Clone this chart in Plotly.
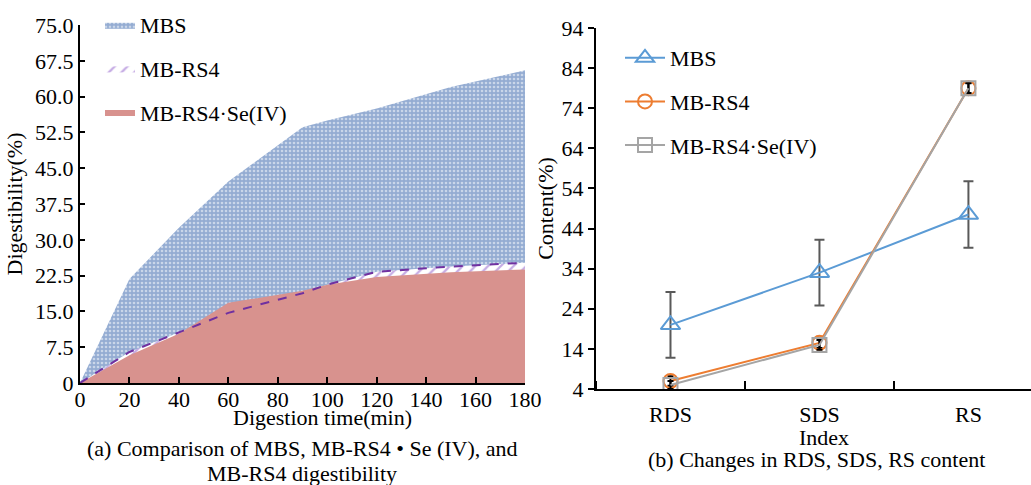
import plotly.graph_objects as go

# ---------- data: left chart (digestibility vs time) ----------
time_min = [0, 20, 40, 60, 90, 100, 120, 150, 180]
mbs_dig = [0, 21.8, 32.5, 42.2, 53.6, 55.0, 57.5, 62.0, 65.5]
mbrs4_dig = [0, 6.5, 10.6, 14.7, 18.8, 20.6, 23.3, 24.4, 25.2]
mbrs4se_dig = [0, 5.8, 10.3, 16.8, 19.3, 20.6, 22.2, 23.2, 23.8]

# ---------- data: right chart (content by index) ----------
index_cats = ["RDS", "SDS", "RS"]
mbs_content = [20.0, 33.0, 47.5]
mbs_err = [8.2, 8.2, 8.3]
mbrs4_content = [6.0, 15.5, 79.0]
mbrs4_err = [1.2, 1.3, 1.3]
mbrs4se_content = [5.0, 15.0, 79.0]
mbrs4se_err = [1.0, 1.2, 1.2]

left_xticks = list(range(0, 181, 20))
left_yticks = [0, 7.5, 15, 22.5, 30, 37.5, 45, 52.5, 60, 67.5, 75]
left_yticklabels = ["0", "7.5", "15.0", "22.5", "30.0", "37.5", "45.0", "52.5", "60.0", "67.5", "75.0"]
right_yticks = [4, 14, 24, 34, 44, 54, 64, 74, 84, 94]
idx_pos = list(range(len(index_cats)))

FONT = "Liberation Serif"
FS = 22
W, H = 1031, 485

fig = go.Figure()

# left areas
fig.add_trace(go.Scatter(
    x=time_min, y=mbs_dig, name="MBS", mode="lines", fill="tozeroy",
    line=dict(width=0, color="#94acd2"),
    fillcolor="#94acd2",
    fillpattern=dict(shape=".", bgcolor="#94acd2", fgcolor="white", size=4, solidity=0.35),
    legend="legend", legendgroup="a1", xaxis="x", yaxis="y"))
fig.add_trace(go.Scatter(
    x=time_min, y=mbrs4_dig, name="MB-RS4", mode="lines", fill="tozeroy",
    line=dict(width=0, color="#8a55c8"),
    fillpattern=dict(shape="/", bgcolor="white", fgcolor="#8a55c8", size=9, solidity=0.25),
    legend="legend", legendgroup="a2", xaxis="x", yaxis="y"))
fig.add_trace(go.Scatter(
    x=time_min, y=mbrs4se_dig, name="MB-RS4·Se(IV)", mode="lines", fill="tozeroy",
    line=dict(width=0, color="#d8928e"), fillcolor="#d8928e",
    legend="legend", legendgroup="a3", xaxis="x", yaxis="y"))
fig.add_trace(go.Scatter(
    x=time_min, y=mbrs4_dig, mode="lines", showlegend=False,
    line=dict(width=2, color="#7030a0", dash="dash"),
    xaxis="x", yaxis="y", hoverinfo="skip"))

# right lines
fig.add_trace(go.Scatter(
    x=idx_pos, y=mbs_content, name="MBS", mode="lines+markers",
    line=dict(color="#5b9bd5", width=2),
    marker=dict(symbol="triangle-up-open", size=17, line=dict(width=2, color="#5b9bd5")),
    error_y=dict(type="data", array=mbs_err, color="#595959", thickness=2, width=5),
    legend="legend2", legendgroup="b1", xaxis="x2", yaxis="y2"))
fig.add_trace(go.Scatter(
    x=idx_pos, y=mbrs4_content, name="MB-RS4", mode="lines+markers",
    line=dict(color="#ed7d31", width=2),
    marker=dict(symbol="circle-open", size=14, line=dict(width=2, color="#ed7d31")),
    error_y=dict(type="data", array=mbrs4_err, color="black", thickness=2, width=3),
    legend="legend2", legendgroup="b2", xaxis="x2", yaxis="y2"))
fig.add_trace(go.Scatter(
    x=idx_pos, y=mbrs4se_content, name="MB-RS4·Se(IV)", mode="lines+markers",
    line=dict(color="#a5a5a5", width=2),
    marker=dict(symbol="square-open", size=14, line=dict(width=2, color="#a5a5a5")),
    error_y=dict(type="data", array=mbrs4se_err, color="black", thickness=2, width=3),
    legend="legend2", legendgroup="b3", xaxis="x2", yaxis="y2"))


def ax(**kw):
    d = dict(showline=True, linecolor="black", linewidth=2, showgrid=False,
             zeroline=False, ticks="inside", tickcolor="black", tickwidth=2,
             automargin=False, tickfont=dict(family=FONT, size=FS, color="black"))
    d.update(kw)
    return d


fig.update_layout(
    width=W, height=H, margin=dict(l=0, r=0, t=0, b=0, autoexpand=False),
    paper_bgcolor="white", plot_bgcolor="rgba(0,0,0,0)",
    font=dict(family=FONT, color="black"),
    showlegend=True,
    xaxis=ax(domain=[80 / W, 525 / W], range=[0, 180], tickvals=left_xticks,
             ticklen=6, anchor="y", ticklabelstandoff=-4),
    yaxis=ax(domain=[(H - 383) / H, (H - 25) / H], range=[0, 75],
             tickvals=left_yticks, ticktext=left_yticklabels, ticklen=5, anchor="x",
             title=dict(text="Digestibility(%)", font=dict(family=FONT, size=FS), standoff=6)),
    xaxis2=ax(domain=[596 / W, 1.0], range=[-0.5, 2.42],
              tickvals=idx_pos, ticktext=index_cats, ticks="", anchor="y2",
              ticklabelstandoff=5,
              minor=dict(tickmode="linear", tick0=0.5, dtick=1, ticks="inside",
                         ticklen=8, tickwidth=2, tickcolor="black", showgrid=False)),
    yaxis2=ax(domain=[(H - 389) / H, (H - 28) / H], range=[4, 94],
              tickvals=right_yticks, ticklen=6, anchor="x2", ticks="outside",
              title=dict(text="Content(%)", font=dict(family=FONT, size=FS), standoff=2)),
    legend=dict(x=100 / W, y=1 - 4 / H, xanchor="left", yanchor="top",
                font=dict(family=FONT, size=FS, color="black"),
                bgcolor="rgba(0,0,0,0)", tracegroupgap=12, itemwidth=30),
    legend2=dict(x=620 / W, y=1 - 37 / H, xanchor="left", yanchor="top",
                 font=dict(family=FONT, size=FS, color="black"),
                 bgcolor="rgba(0,0,0,0)", tracegroupgap=12, itemwidth=40),
)

annos = [
    dict(text="Digestion time(min)", x=322 / W, y=1 - 417 / H),
    dict(text="(a) Comparison of MBS, MB-RS4 • Se (IV), and", x=302 / W, y=1 - 448 / H),
    dict(text="MB-RS4 digestibility", x=302 / W, y=1 - 473 / H),
    dict(text="Index", x=824 / W, y=1 - 437 / H),
    dict(text="(b) Changes in RDS, SDS, RS content", x=816 / W, y=1 - 459 / H),
]
for a in annos:
    fig.add_annotation(text=a["text"], x=a["x"], y=a["y"], xref="paper", yref="paper",
                       xanchor="center", yanchor="middle", showarrow=False,
                       font=dict(family=FONT, size=FS, color="black"))

fig.write_html("out.html", config={"displayModeBar": False},
               post_script="document.body.style.margin='0';document.body.style.overflow='hidden';")
